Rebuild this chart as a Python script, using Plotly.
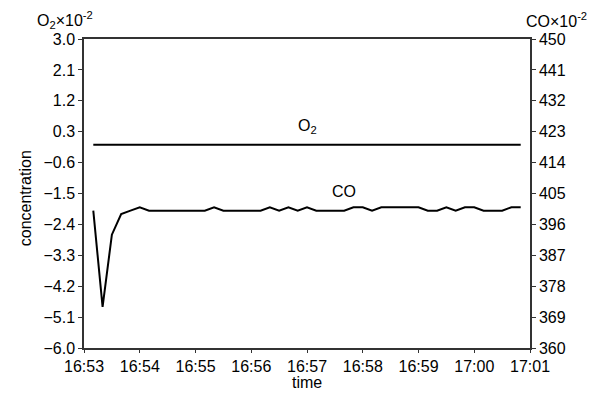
import plotly.graph_objects as go

times = [
    "16:53:10", "16:53:20", "16:53:30", "16:53:40", "16:53:50",
    "16:54:00", "16:54:10", "16:54:20", "16:54:30", "16:54:40", "16:54:50",
    "16:55:00", "16:55:10", "16:55:20", "16:55:30", "16:55:40", "16:55:50",
    "16:56:00", "16:56:10", "16:56:20", "16:56:30", "16:56:40", "16:56:50",
    "16:57:00", "16:57:10", "16:57:20", "16:57:30", "16:57:40", "16:57:50",
    "16:58:00", "16:58:10", "16:58:20", "16:58:30", "16:58:40", "16:58:50",
    "16:59:00", "16:59:10", "16:59:20", "16:59:30", "16:59:40", "16:59:50",
    "17:00:00", "17:00:10", "17:00:20", "17:00:30", "17:00:40", "17:00:50",
]
co_values = [
    400, 372, 393, 399, 400,
    401, 400, 400, 400, 400, 400,
    400, 400, 401, 400, 400, 400,
    400, 400, 401, 400, 401, 400,
    401, 400, 400, 400, 400, 401,
    401, 400, 401, 401, 401, 401,
    401, 400, 400, 401, 400, 401,
    401, 400, 400, 400, 401, 401,
]
o2_values = [
    -0.08, -0.08, -0.09, -0.09, -0.09,
    -0.09, -0.09, -0.09, -0.08, -0.09, -0.09,
    -0.09, -0.08, -0.09, -0.09, -0.09, -0.09,
    -0.08, -0.09, -0.09, -0.10, -0.09, -0.09,
    -0.08, -0.09, -0.09, -0.09, -0.08, -0.08,
    -0.08, -0.08, -0.09, -0.08, -0.08, -0.09,
    -0.08, -0.09, -0.08, -0.08, -0.09, -0.08,
    -0.08, -0.08, -0.08, -0.08, -0.08, -0.08,
]
x_range = ["16:53:00", "17:01:00"]
left_range = [-6.0, 3.0]
right_range = [360, 450]

day = "2020-01-01 "
xs = [day + t for t in times]

FONT = "Liberation Sans, Arial, sans-serif"
AX = "#333333"

fig = go.Figure()
fig.add_trace(go.Scatter(x=xs, y=o2_values, mode="lines", name="O2",
                         line=dict(color="black", width=2), yaxis="y"))
fig.add_trace(go.Scatter(x=xs, y=co_values, mode="lines", name="CO",
                         line=dict(color="black", width=2), yaxis="y2"))

fig.update_layout(
    width=592, height=388,
    margin=dict(l=76, r=70, t=31, b=48, autoexpand=False),
    paper_bgcolor="white", plot_bgcolor="white",
    showlegend=False,
    font=dict(family=FONT, size=16, color="black"),
    xaxis=dict(
        type="date", range=[day + x_range[0], day + x_range[1]],
        dtick=60000, tickformat="%H:%M", automargin=False,
        showgrid=False, zeroline=False,
        showline=True, linecolor=AX, linewidth=1.5, mirror=True,
        ticks="outside", ticklen=3, tickcolor=AX,
        tickfont=dict(size=16),
    ),
    yaxis=dict(
        range=left_range, tick0=-6.0, dtick=0.9, tickformat=".1f",
        automargin=False,
        showgrid=False, zeroline=False,
        showline=True, linecolor=AX, linewidth=1.5,
        ticks="outside", ticklen=4, tickcolor=AX,
        tickfont=dict(size=16),
    ),
    yaxis2=dict(
        range=right_range, tick0=360, dtick=9, automargin=False,
        overlaying="y", side="right",
        showgrid=False, zeroline=False,
        showline=True, linecolor=AX, linewidth=1.5,
        ticks="outside", ticklen=4, tickcolor=AX,
        tickfont=dict(size=16),
    ),
)

fig.add_annotation(text="O<sub>2</sub>×10<sup>-2</sup>", xref="paper", yref="paper",
                   x=-0.043, y=1.0, yshift=19, showarrow=False,
                   xanchor="center", yanchor="middle", font=dict(size=16))
fig.add_annotation(text="CO×10<sup>-2</sup>", xref="paper", yref="paper",
                   x=1.06, y=1.0, yshift=19, showarrow=False,
                   xanchor="center", yanchor="middle", font=dict(size=16))
fig.add_annotation(text="concentration", xref="paper", yref="paper",
                   x=-0.132, y=0.485, textangle=-90, showarrow=False,
                   xanchor="center", yanchor="middle", font=dict(size=16))
fig.add_annotation(text="time", xref="paper", yref="paper",
                   x=0.5, y=-0.112, showarrow=False,
                   xanchor="center", yanchor="middle", font=dict(size=16))
fig.add_annotation(text="O<sub>2</sub>", xref="x", yref="y",
                   x=day + "16:57:00", y=0.45, showarrow=False,
                   xanchor="center", yanchor="middle", font=dict(size=16))
fig.add_annotation(text="CO", xref="x", yref="y2",
                   x=day + "16:57:40", y=405.5, showarrow=False,
                   xanchor="center", yanchor="middle", font=dict(size=16))

fig.write_html("out.html")
